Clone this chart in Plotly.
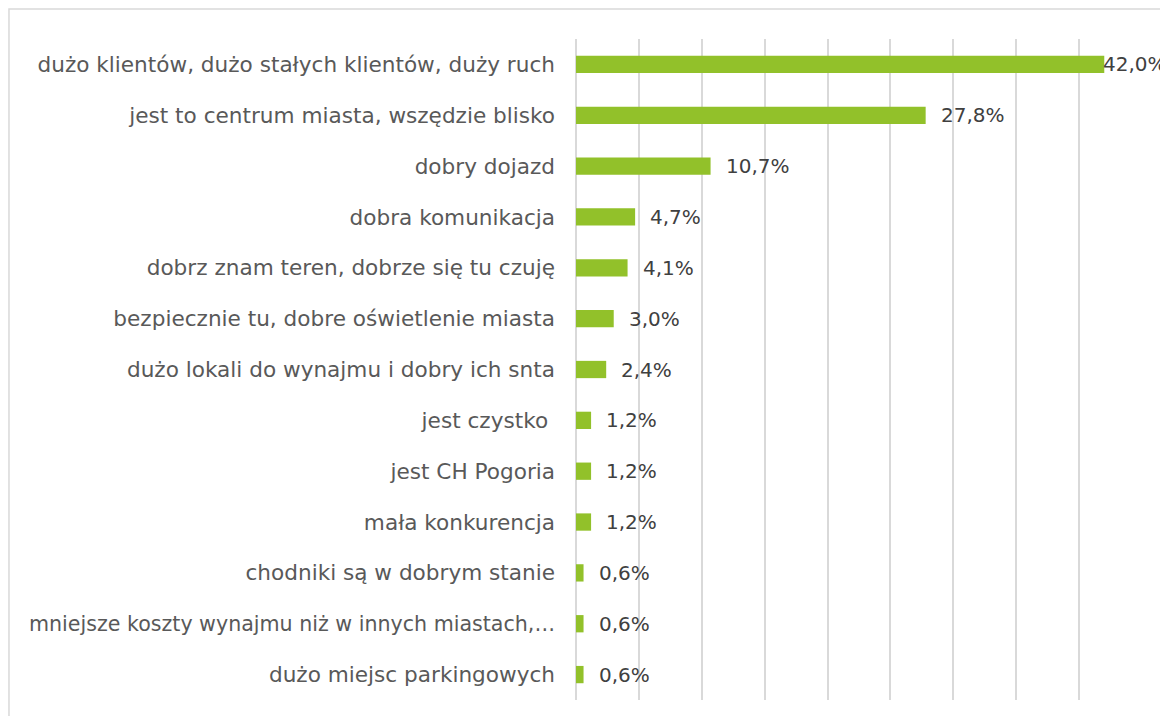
import plotly.graph_objects as go

categories = [
    "dużo klientów, dużo stałych klientów, duży ruch",
    "jest to centrum miasta, wszędzie blisko",
    "dobry dojazd",
    "dobra komunikacja",
    "dobrz znam teren, dobrze się tu czuję",
    "bezpiecznie tu, dobre oświetlenie miasta",
    "dużo lokali do wynajmu i dobry ich snta",
    "jest czystko ",
    "jest CH Pogoria",
    "mała konkurencja",
    "chodniki są w dobrym stanie",
    "mniejsze koszty wynajmu niż w innych miastach,…",
    "dużo miejsc parkingowych",
]
values = [42.0, 27.8, 10.7, 4.7, 4.1, 3.0, 2.4, 1.2, 1.2, 1.2, 0.6, 0.6, 0.6]
labels = [f"{v:.1f}%".replace(".", ",") for v in values]

FONT = "DejaVu Sans, sans-serif"

# long category label rendered slightly smaller so it stays inside the frame
tick_text = [
    (f'<span style="font-size:20.6px">{c}</span>' if len(c) > 46 and c.endswith("…") else c)
    for c in categories
]

fig = go.Figure(go.Bar(
    x=values, y=categories, orientation="h",
    marker=dict(color="#92C12A", line=dict(width=0)),
    width=0.34, hoverinfo="skip",
))

for v, c, t in zip(values, categories, labels):
    fig.add_annotation(x=v, y=c, text=t, showarrow=False, xanchor="left",
                       xshift=(-3 if v > 40 else 13),
                       font=dict(family=FONT, size=20, color="#404040"))

fig.add_shape(type="rect", xref="paper", yref="paper",
              x0=-1.0018, x1=1.2, y0=-0.1, y1=1.0454,
              line=dict(color="#D9D9D9", width=1.5), fillcolor="rgba(0,0,0,0)", layer="below")

fig.update_layout(
    width=1160, height=708,
    margin=dict(l=568, r=26, t=31, b=16, autoexpand=False),
    paper_bgcolor="white", plot_bgcolor="white",
    showlegend=False,
    xaxis=dict(range=[0, 45], dtick=5, showgrid=True, gridcolor="#D9D9D9", gridwidth=2,
               zeroline=True, zerolinecolor="#D9D9D9", zerolinewidth=2,
               showticklabels=False, ticks="", fixedrange=True, automargin=False),
    yaxis=dict(autorange="reversed", showgrid=False, ticks="", ticklabelstandoff=20,
               automargin=False, tickmode="array", tickvals=categories, ticktext=tick_text,
               tickfont=dict(family=FONT, size=21.6, color="#595959"), fixedrange=True),
)

fig.write_html("out.html")
